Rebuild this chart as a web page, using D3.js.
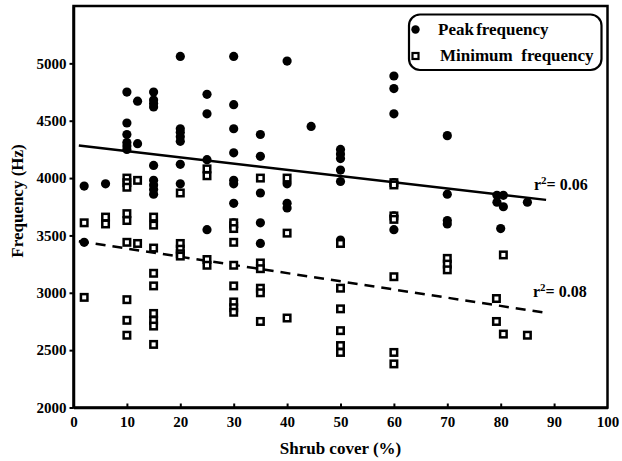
<!DOCTYPE html>
<html><head><meta charset="utf-8">
<script src="https://cdn.jsdelivr.net/npm/d3@7"></script>
<style>
body{margin:0;background:#fff;}
text{font-family:"Liberation Serif","Times New Roman",serif;font-weight:bold;fill:#000;}
</style></head>
<body><svg id="c" width="622" height="461"></svg>
<script>
// Peak frequency (filled circles)
const peakX = [2,2,6,10,10,10,10,10,10,12,12,15,15,15,15,15,15,15,15,15,
  20,20,20,20,20,20,20,25,25,25,25,30,30,30,30,30,30,30,30,30,
  35,35,35,35,35,40,40,40,40,44.5,50,50,50,50,50,50,60,60,60,60,60,60,
  70,70,70,70,79.3,79.3,80.5,80.5,80,85];
const peakY = [3930,3440,3950,4750,4480,4380,4310,4280,4250,4670,4300,4750,4680,4650,4620,4110,3980,3940,3900,3860,
  5060,4430,4400,4360,4320,4120,3950,4730,4560,4160,3550,5060,4640,4430,4220,3980,3950,3780,3610,3570,
  4380,4190,3870,3610,3430,5020,3950,3780,3740,4450,4250,4210,4170,4070,3970,3460,4890,4780,4560,3960,3670,3550,
  4370,3860,3630,3600,3850,3790,3850,3750,3560,3790];
// Minimum frequency (open squares)
const minX = [2,2,6,6,10,10,10,10,10,10,10,10,10,12,12,15,15,15,15,15,15,15,15,15,
  20,20,20,20,20,25,25,25,25,30,30,30,30,30,30,30,30,35,35,35,35,35,35,40,40,40,
  50,50,50,50,50,50,60,60,60,60,60,60,60,70,70,70,80.5,79.2,79.2,80.5,85];
const minY = [3610,2960,3660,3600,4000,3960,3920,3690,3630,3440,2940,2760,2630,3980,3430,3660,3590,3390,3170,3060,2820,2760,2710,2550,
  3870,3430,3380,3340,3320,4080,4020,3290,3240,3610,3560,3440,3240,3060,2920,2870,2830,4000,3260,3210,3040,3000,2750,4000,3520,2780,
  3430,3040,2860,2670,2540,2480,3960,3940,3670,3640,3140,2480,2380,3300,3250,3200,3330,2950,2750,2640,2630];
// Regression lines (start/end)
const trendX = [1, 88.5];
const peakTrend = [4283, 3810];
const minTrend = [3450, 2825];
const xTicks = [0,10,20,30,40,50,60,70,80,90,100];
const yTicks = [2000,2500,3000,3500,4000,4500,5000];
const seriesNames = ["Peak frequency", "Minimum\u00a0 frequency"];
const r2Labels = ["0.06", "0.08"];

const svg = d3.select("#c");
const L = 73.5, R = 607.5, T = 6, B = 407.5;
const x = d3.scaleLinear().domain([0,100]).range([L,R]);
const y = d3.scaleLinear().domain([2000,5500]).range([B,T]);

// frame
svg.append("rect").attr("x",L).attr("y",T).attr("width",R-L).attr("height",B-T)
  .attr("fill","none").attr("stroke","#000").attr("stroke-width",2.5);

const gx = svg.append("g").attr("transform",`translate(0,${B})`)
  .call(d3.axisBottom(x).tickValues(xTicks).tickFormat(d3.format("d")).tickSize(-4).tickSizeOuter(0).tickPadding(9));
gx.attr("font-family",null).attr("font-size",null);
gx.select(".domain").attr("stroke-width",2.5);
gx.selectAll(".tick line").attr("stroke-width",2);
gx.selectAll(".tick text").attr("font-size",15);
gx.selectAll(".tick").filter(d=>d===100||d===0).select("line").remove();

const gy = svg.append("g").attr("transform",`translate(${L},0)`)
  .call(d3.axisLeft(y).tickValues(yTicks).tickFormat(d3.format("d")).tickSize(4).tickSizeOuter(0).tickPadding(3));
gy.attr("font-family",null).attr("font-size",null);
gy.select(".domain").attr("stroke-width",2.5);
gy.selectAll(".tick line").attr("stroke-width",2);
gy.selectAll(".tick text").attr("font-size",15);

// axis titles
svg.append("text").attr("x",(L+R)/2).attr("y",454).attr("text-anchor","middle")
  .attr("font-size",17).text("Shrub cover (%)");
svg.append("text").attr("transform","translate(23,201) rotate(-90)").attr("text-anchor","middle")
  .attr("font-size",17).text("Frequency (Hz)");

// trend lines
const line = d3.line().x(d=>x(d[0])).y(d=>y(d[1]));
svg.append("path").datum(trendX.map((v,i)=>[v,peakTrend[i]])).attr("d",line)
  .attr("stroke","#000").attr("stroke-width",2.5).attr("fill","none");
svg.append("path").datum(trendX.map((v,i)=>[v,minTrend[i]])).attr("d",line)
  .attr("stroke","#000").attr("stroke-width",2.5).attr("fill","none").attr("stroke-dasharray","10,7");

// peak circles
svg.append("g").selectAll("circle").data(peakX.map((v,i)=>[v,peakY[i]])).join("circle")
  .attr("cx",d=>x(d[0])).attr("cy",d=>y(d[1])).attr("r",4.6).attr("fill","#000");
// min squares
const sq = 6.5;
svg.append("g").selectAll("rect").data(minX.map((v,i)=>[v,minY[i]])).join("rect")
  .attr("x",d=>x(d[0])-sq/2).attr("y",d=>y(d[1])-sq/2).attr("width",sq).attr("height",sq)
  .attr("fill","#fff").attr("stroke","#000").attr("stroke-width",2.5);

// r2 labels
function r2(xp, yp, v){
  const t = svg.append("text").attr("x",xp).attr("y",yp).attr("font-size",16);
  t.append("tspan").text("r");
  t.append("tspan").attr("dy",-6).attr("font-size",11).text("2");
  t.append("tspan").attr("dy",6).text("= " + v);
}
r2(534, 190, r2Labels[0]);
r2(533, 297, r2Labels[1]);

// legend
svg.append("rect").attr("x",409).attr("y",14.5).attr("width",192.5).attr("height",55.5)
  .attr("rx",11).attr("fill","#fff").attr("stroke","#000").attr("stroke-width",2.2);
svg.append("circle").attr("cx",415.5).attr("cy",29.5).attr("r",4.2).attr("fill","#000");
svg.append("rect").attr("x",415.5-3).attr("y",56-3).attr("width",6).attr("height",6)
  .attr("fill","#fff").attr("stroke","#000").attr("stroke-width",2.2);
svg.append("text").attr("x",438).attr("y",34.5).attr("font-size",17).style("word-spacing","-2px").text(seriesNames[0]);
svg.append("text").attr("x",440).attr("y",60.5).attr("font-size",17).text(seriesNames[1]);
</script></body></html>
